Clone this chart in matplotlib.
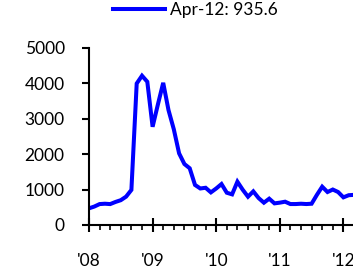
import numpy as np
import matplotlib.pyplot as plt
from matplotlib.ticker import MultipleLocator

plt.rcParams['font.family'] = ['Lato', 'DejaVu Sans']

# monthly values, Jan-08 .. Apr-12
values = [470, 520, 590, 600, 590, 650, 700, 800, 990, 3990, 4210, 4040,
          2770, 3400, 4010, 3240, 2700, 2020, 1720, 1600, 1130, 1030, 1050, 920,
          1030, 1155, 910, 864, 1221, 995, 798, 948, 760, 629, 742, 610,
          630, 657, 591, 591, 600, 591, 600, 850, 1080, 930, 1000, 930,
          780, 840, 850, 935.6]
year_labels = ["'08", "'09", "'10", "'11", "'12"]
legend_label = "Apr-12: 935.6"

x = np.arange(len(values))

fig = plt.figure(figsize=(3.53, 2.72), dpi=100)
ax = fig.add_axes([89/353, 0.1728, 1 - 89/353, 0.6518])

line, = ax.plot(x, values, color='#0000ff', lw=2.9, solid_joinstyle='miter')

ax.set_xlim(0, (353 - 89) / 5.3)
ax.set_ylim(0, 5000)
ax.set_yticks(np.arange(0, 5001, 1000))
ax.set_xticks(np.arange(0, 49, 12))
ax.set_xticklabels(year_labels)
ax.xaxis.set_minor_locator(MultipleLocator(2))

for s in ['top', 'right']:
    ax.spines[s].set_visible(False)
for s in ['left', 'bottom']:
    ax.spines[s].set_linewidth(1.5)

ax.tick_params(axis='y', direction='out', length=5, width=1.5, pad=12.5, labelsize=12.5)
ax.tick_params(axis='x', which='major', direction='inout', length=10, width=1.5, pad=15, labelsize=12.5)
ax.tick_params(axis='x', which='minor', direction='out', length=3.6, width=1.2)

fig.legend([line], [legend_label], loc='center', bbox_to_anchor=(0.554, 0.963),
           frameon=False, fontsize=12.5, handlelength=3.0, handletextpad=0.3,
           borderpad=0, borderaxespad=0)

fig.savefig('out.png', dpi=100)
